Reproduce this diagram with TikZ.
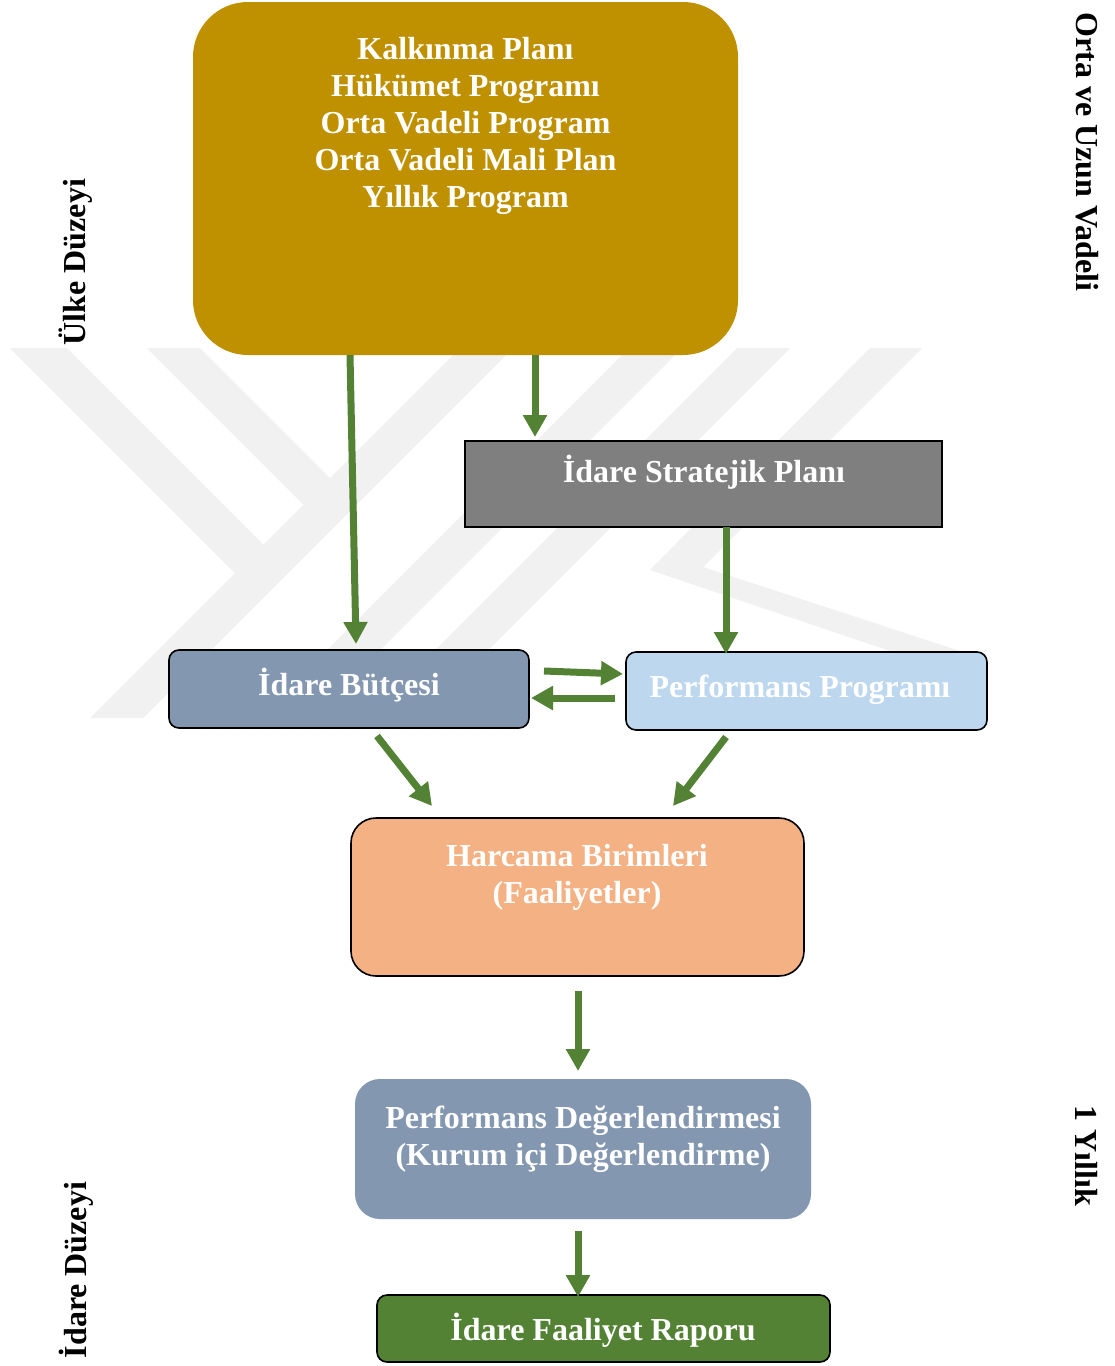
\documentclass[tikz,border=0pt]{standalone}
\usepackage{fontspec}
\setmainfont{Liberation Serif}
\usetikzlibrary{arrows.meta,calc}
\definecolor{goldc}{HTML}{BF9000}
\definecolor{stratc}{HTML}{7F7F7F}
\definecolor{budc}{HTML}{8497B0}
\definecolor{perfc}{HTML}{BDD7EE}
\definecolor{harcc}{HTML}{F4B183}
\definecolor{greenc}{HTML}{548235}
\definecolor{wmc}{HTML}{F1F1F1}
\tikzset{
  boxs/.style={rectangle, inner sep=0pt, outer sep=0pt},
  txt/.style={text=white, font=\fontsize{32}{37}\selectfont\bfseries, align=center, inner sep=0pt},
  side/.style={text=black, font=\fontsize{32}{37}\selectfont\bfseries, inner sep=0pt},
  arr/.style={draw=greenc, line width=7pt, -{Triangle[width=23pt,length=22pt]}},
  wm/.style={fill=wmc}
}
\begin{document}
\begin{tikzpicture}[x=1pt,y=-1pt]
\useasboundingbox (0,0) rectangle (1115,1366);
\fill[white] (0,0) rectangle (1115,1366);
% watermark
\fill[wm] (10,348) -- (67,348) -- (263.5,544.5) -- (235,573) -- cycle;
\fill[wm] (147,348) -- (200,348) -- (330,478) -- (303.5,504.5) -- cycle;
\fill[wm] (460,348) -- (513,348) -- (143,718) -- (90,718) -- cycle;
\fill[wm] (629,348) -- (682,348) -- (312,718) -- (259,718) -- cycle;
\fill[wm] (737,348) -- (790,348) -- (420,718) -- (367,718) -- cycle;
\fill[wm] (870,348) -- (922,348) -- (703,567) -- (960,651) -- (890,651) -- (650,570) -- cycle;

% boxes
\node[boxs, fill=goldc, rounded corners=55pt, minimum width=545pt, minimum height=353pt] (top) at (465.5,178.5) {};
\node[txt] (toptxt) at (465.5,125.5) {Kalkınma Planı\\Hükümet Programı\\Orta Vadeli Program\\Orta Vadeli Mali Plan\\Yıllık Program};

\node[boxs, fill=stratc, draw=black, line width=2pt, minimum width=477pt, minimum height=86pt] (strat) at (703.5,484) {};
\node[txt] (strattxt) at (704,472) {İdare Stratejik Planı};

\node[boxs, fill=budc, draw=black, line width=1.6pt, rounded corners=10pt, minimum width=360pt, minimum height=78pt] (bud) at (349,689) {};
\node[txt] (budtxt) at (349,685) {İdare Bütçesi};

\node[boxs, fill=perfc, draw=black, line width=1.6pt, rounded corners=10pt, minimum width=361pt, minimum height=78pt] (perf) at (806.5,691) {};
\node[txt] (perftxt) at (800,690) {Performans Programı};

\node[boxs, fill=harcc, draw=black, line width=1.6pt, rounded corners=25pt, minimum width=453pt, minimum height=158pt] (harc) at (577.5,897) {};
\node[txt] (harctxt) at (577,877) {Harcama Birimleri\\(Faaliyetler)};

\node[boxs, fill=budc, rounded corners=25pt, minimum width=456pt, minimum height=140pt] (pdeg) at (583,1149) {};
\node[txt] (pdegtxt) at (583,1139) {Performans Değerlendirmesi\\(Kurum içi Değerlendirme)};

\node[boxs, fill=greenc, draw=black, line width=1.6pt, rounded corners=10pt, minimum width=453pt, minimum height=67pt] (rapor) at (603.5,1328.5) {};
\node[txt] (raportxt) at (603,1330) {İdare Faaliyet Raporu};

% side labels
\node[side, rotate=-90] (ouv) at (1087,152) {Orta ve Uzun Vadeli};
\node[side, rotate=-90] (yil) at (1087,1156) {1 Yıllık};
\node[side, rotate=90] (ulke) at (76,262) {Ülke Düzeyi};
\node[side, rotate=90] (idz) at (76,1270) {İdare Düzeyi};

% arrows
\draw[arr] ($(top.south)+(-115.5,0)$) -- ($(bud.north)+(7,-6)$);
\draw[arr] ($(top.south)+(69.5,0)$) -- ($(strat.north)+(-168.5,-4)$);
\draw[arr] ($(strat.south)+(22.5,0)$) -- ($(perf.north)+(-80.5,2)$);
\draw[arr] ($(bud.east)+(15,-18)$) -- ($(perf.west)+(-3,-17)$);
\draw[arr] ($(perf.west)+(-11,7)$) -- ($(bud.east)+(2,9)$);
\draw[arr] ($(bud.south)+(28,8)$) -- ($(harc.north)+(-145.5,-12)$);
\draw[arr] ($(perf.south)+(-80.5,7)$) -- ($(harc.north)+(95.5,-12)$);
\draw[arr] ($(harc.south)+(0.5,15)$) -- ($(pdeg.north)+(-5,-8)$);
\draw[arr] ($(pdeg.south)+(-5,12)$) -- ($(rapor.north)+(-25.5,2)$);
\end{tikzpicture}
\end{document}
